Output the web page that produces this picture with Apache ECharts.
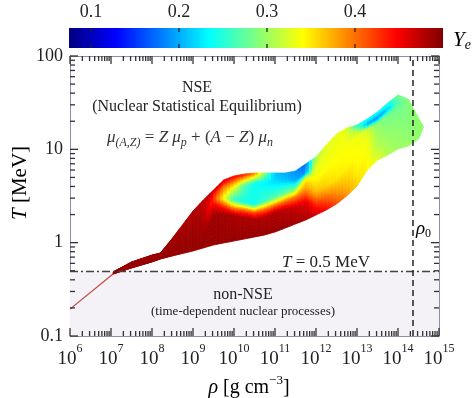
<!DOCTYPE html>
<html><head><meta charset="utf-8">
<script src="https://cdn.jsdelivr.net/npm/echarts@6/dist/echarts.min.js"></script>
<style>html,body{margin:0;padding:0;background:#fff}#c{width:475px;height:398px}</style>
</head><body><div id="c"></div>
<script>
// ---- data ----
const rho = [1.12e7, 3.16e7, 1e8, 1.6e8, 3.16e8, 1e9, 1.78e9, 3.16e9, 5.6e9, 1e10, 1.78e10, 3.16e10, 5.6e10, 1e11,
  1.78e11, 3.16e11, 5.6e11, 1e12, 1.78e12, 3.16e12, 5.6e12, 1e13, 1.78e13, 3.16e13, 5.6e13, 1e14, 1.78e14, 3.16e14, 4e14];
// temperature [MeV] of the ribbon layer boundaries, bottom -> top, one row per density
const Tedges = [
  [0.462, 0.466, 0.471, 0.476, 0.480, 0.485],
  [0.535, 0.551, 0.567, 0.584, 0.602, 0.621],
  [0.621, 0.642, 0.665, 0.688, 0.712, 0.737],
  [0.668, 0.688, 0.709, 0.730, 0.752, 0.775],
  [0.720, 0.787, 0.860, 0.939, 1.027, 1.122],
  [0.814, 0.992, 1.208, 1.472, 1.794, 2.184],
  [0.877, 1.111, 1.408, 1.784, 2.261, 2.866],
  [0.944, 1.979, 2.471, 2.937, 3.322, 3.666],
  [0.992, 2.079, 2.411, 3.009, 3.948, 4.692],
  [1.042, 1.979, 2.295, 2.937, 3.948, 5.178],
  [1.094, 1.884, 2.239, 2.728, 4.148, 5.441],
  [1.150, 1.793, 2.131, 2.596, 4.357, 5.576],
  [1.208, 1.884, 2.295, 2.796, 4.467, 5.576],
  [1.301, 2.131, 2.532, 3.084, 4.578, 5.576],
  [1.436, 2.295, 2.796, 3.405, 4.692, 5.576],
  [1.585, 2.411, 3.084, 3.666, 4.692, 5.858],
  [1.749, 2.728, 3.666, 4.93, 5.576, 6.964],
  [1.979, 2.471, 3.489, 4.93, 6.794, 8.275],
  [2.239, 2.796, 4.047, 6.31, 9.136, 11.13],
  [2.596, 3.322, 4.93, 7.686, 11.69, 14.6],
  [3.162, 4.148, 6.31, 9.836, 13.9, 16.92],
  [4.047, 6.004, 9.364, 14.24, 16.51, 18.23],
  [6.004, 9.364, 13.56, 16.51, 18.68, 21.13],
  [7.686, 11.13, 15.34, 19.15, 21.66, 25.12],
  [8.695, 12.59, 18.68, 23.9, 27.05, 31.36],
  [10.08, 14.6, 20.62, 27.73, 32.94, 38.2],
  [10.86, 14.24, 18.68, 23.9, 29.85, 34.62],
  [12.9, 14.24, 15.72, 17.35, 19.63, 21.66],
  [16.9, 17.0, 17.2, 17.4, 17.6, 17.8]
];
// electron fraction Ye at each of those boundaries
const YeEdges = [
  [0.49, 0.49, 0.49, 0.49, 0.49, 0.49],
  [0.49, 0.49, 0.49, 0.49, 0.49, 0.49],
  [0.49, 0.49, 0.49, 0.49, 0.49, 0.49],
  [0.49, 0.49, 0.49, 0.49, 0.49, 0.488],
  [0.49, 0.49, 0.49, 0.488, 0.486, 0.484],
  [0.49, 0.49, 0.488, 0.486, 0.483, 0.48],
  [0.49, 0.49, 0.487, 0.483, 0.478, 0.475],
  [0.49, 0.487, 0.46, 0.43, 0.44, 0.47],
  [0.49, 0.485, 0.44, 0.34, 0.40, 0.465],
  [0.49, 0.482, 0.41, 0.25, 0.34, 0.45],
  [0.49, 0.482, 0.41, 0.24, 0.27, 0.44],
  [0.49, 0.482, 0.41, 0.24, 0.24, 0.40],
  [0.49, 0.48, 0.40, 0.26, 0.23, 0.30],
  [0.49, 0.478, 0.40, 0.27, 0.22, 0.21],
  [0.49, 0.475, 0.40, 0.28, 0.21, 0.20],
  [0.488, 0.47, 0.40, 0.30, 0.20, 0.19],
  [0.485, 0.46, 0.39, 0.34, 0.19, 0.17],
  [0.47, 0.44, 0.37, 0.34, 0.33, 0.30],
  [0.45, 0.42, 0.36, 0.34, 0.33, 0.33],
  [0.42, 0.39, 0.35, 0.34, 0.335, 0.33],
  [0.39, 0.37, 0.345, 0.34, 0.335, 0.33],
  [0.36, 0.345, 0.34, 0.335, 0.30, 0.25],
  [0.345, 0.34, 0.335, 0.32, 0.20, 0.24],
  [0.33, 0.31, 0.30, 0.29, 0.19, 0.24],
  [0.31, 0.30, 0.29, 0.28, 0.21, 0.25],
  [0.30, 0.295, 0.29, 0.28, 0.27, 0.28],
  [0.30, 0.295, 0.29, 0.29, 0.29, 0.29],
  [0.295, 0.295, 0.295, 0.295, 0.295, 0.295],
  [0.295, 0.295, 0.295, 0.295, 0.295, 0.295]
];
const lineRho = [1e6, 1.12e7];
const lineT = [0.194, 0.462];
const xTickVals = [1e6, 1e7, 1e8, 1e9, 1e10, 1e11, 1e12, 1e13, 1e14, 1e15];
const yTickVals = [0.1, 1, 10, 100];
const cbTickVals = [0.1, 0.2, 0.3, 0.4];
const cbRange = [0.075, 0.5];
const T_NSE = 0.5;
const rho0 = 2.3e14;
const X_MIN = 1e6, X_MAX = 1e15, Y_MIN = 0.1, Y_MAX = 100;

// ---- helpers ----
const SERIF = '"Liberation Serif", "DejaVu Serif", serif';
function clamp(v) { return Math.max(0, Math.min(1, v)); }
function jet(ye) {
  const t = clamp((ye - cbRange[0]) / (cbRange[1] - cbRange[0]));
  const r = clamp(1.5 - Math.abs(4 * t - 3)), g = clamp(1.5 - Math.abs(4 * t - 2)), b = clamp(1.5 - Math.abs(4 * t - 1));
  return 'rgb(' + Math.round(r * 255) + ',' + Math.round(g * 255) + ',' + Math.round(b * 255) + ')';
}
function minorOf(majors) {
  const out = [];
  for (let i = 0; i < majors.length - 1; i++) for (let m = 2; m <= 9; m++) out.push(+(majors[i] * m).toPrecision(3));
  return out;
}
const xMinor = minorOf(xTickVals), yMinor = minorOf(yTickVals);
const lerp = (a, b, f) => a + (b - a) * f;
const L10 = Math.log10;

const bandData = [];
for (let j = 0; j < rho.length - 1; j++) for (let k = 0; k < 5; k++) bandData.push([rho[j], Tedges[j][k], j, k]);

const AXC = '#8f8ca8', TKC = '#333';

function frameAxis(kind, pos, labels) {
  const base = {
    type: 'log', logBase: 10, gridIndex: 0, position: pos, offset: 0,
    min: kind === 'x' ? X_MIN : Y_MIN, max: kind === 'x' ? X_MAX * 1.00002 : Y_MAX,
    axisLine: { show: true, lineStyle: { color: AXC, width: 1 } },
    axisTick: { show: false }, splitLine: { show: false }, minorTick: { show: false }
  };
  if (!labels) { base.axisLabel = { show: false }; return base; }
  if (kind === 'x') base.axisLabel = {
    show: true, customValues: xTickVals, showMinLabel: true, showMaxLabel: true, margin: 7, color: '#222', fontFamily: SERIF,
    formatter: v => '{b|10}{s|' + Math.round(L10(v)) + '}',
    rich: { b: { fontSize: 19, lineHeight: 26, verticalAlign: 'bottom', fontFamily: SERIF, color: '#222' },
            s: { fontSize: 12, lineHeight: 12, verticalAlign: 'top', fontFamily: SERIF, color: '#222' } }
  };
  else base.axisLabel = { show: true, customValues: yTickVals, showMinLabel: true, showMaxLabel: true, margin: 7, fontSize: 18,
    color: '#222', fontFamily: SERIF, formatter: v => String(v) };
  return base;
}
function tickSeries(points, size, offset, xi, yi, color) {
  return { type: 'scatter', xAxisIndex: xi, yAxisIndex: yi, z: 9, silent: true, clip: false, animation: false,
    symbol: 'rect', symbolSize: size, symbolOffset: offset, itemStyle: { color: color, opacity: 1 },
    data: points, emphasis: { disabled: true } };
}

const textGraphics = [
    { type: 'text', x: 197, y: 88, z: 20, style: { text: 'NSE', fontSize: 16, fontFamily: SERIF, fill: '#222', align: 'center', verticalAlign: 'middle' } },
    { type: 'text', x: 197, y: 107, z: 20, style: { text: '(Nuclear Statistical Equilibrium)', fontSize: 16, fontFamily: SERIF, fill: '#222', align: 'center', verticalAlign: 'middle' } },
    { type: 'text', x: 190, y: 138, z: 20, style: {
      text: '{i|μ}{sb|(A,Z)}{n| = }{i|Z}{n| }{i|μ}{sb|p}{n| + (}{i|A}{n| − }{i|Z}{n|) }{i|μ}{sb|n}',
      fontSize: 17, fontFamily: SERIF, fill: '#333', align: 'center', verticalAlign: 'middle',
      rich: { i: { fontSize: 17, fontStyle: 'italic', fontFamily: SERIF, lineHeight: 22, verticalAlign: 'middle', color: '#333' },
              n: { fontSize: 17, fontFamily: SERIF, lineHeight: 22, verticalAlign: 'middle', color: '#333' },
              sb: { fontSize: 12, fontStyle: 'italic', fontFamily: SERIF, lineHeight: 12, verticalAlign: 'bottom', color: '#333' } } } },
    { type: 'text', x: 326, y: 263, z: 20, style: {
      text: '{i|T}{n| = 0.5 MeV}', align: 'center', verticalAlign: 'middle', fill: '#222',
      rich: { i: { fontSize: 17, fontStyle: 'italic', fontFamily: SERIF, color: '#222' }, n: { fontSize: 17, fontFamily: SERIF, color: '#222' } } } },
    { type: 'text', x: 243, y: 295, z: 20, style: { text: 'non-NSE', fontSize: 16, fontFamily: SERIF, fill: '#222', align: 'center', verticalAlign: 'middle' } },
    { type: 'text', x: 243, y: 312, z: 20, style: { text: '(time-dependent nuclear processes)', fontSize: 13, fontFamily: SERIF, fill: '#222', align: 'center', verticalAlign: 'middle' } },
    { type: 'text', x: 416, y: 229, z: 20, style: {
      text: '{i|ρ}{sb|0}', align: 'left', verticalAlign: 'middle',
      rich: { i: { fontSize: 19, fontStyle: 'italic', fontFamily: SERIF, lineHeight: 22, verticalAlign: 'middle', color: '#222' },
              sb: { fontSize: 12, fontFamily: SERIF, lineHeight: 12, verticalAlign: 'bottom', color: '#222' } } } },
    { type: 'text', x: 453, y: 40, z: 20, style: {
      text: '{i|Y}{sb|e}', align: 'left', verticalAlign: 'middle',
      rich: { i: { fontSize: 21, fontStyle: 'italic', fontFamily: SERIF, lineHeight: 24, verticalAlign: 'middle', color: '#222' },
              sb: { fontSize: 14, fontStyle: 'italic', fontFamily: SERIF, lineHeight: 14, verticalAlign: 'bottom', color: '#222' } } } },
    { type: 'text', x: 20, y: 183, rotation: Math.PI / 2, z: 20, style: {
      text: '{i|T}{n| [MeV]}', align: 'center', verticalAlign: 'middle',
      rich: { i: { fontSize: 21, fontStyle: 'italic', fontFamily: SERIF, color: '#222' }, n: { fontSize: 21, fontFamily: SERIF, color: '#222' } } } },
    { type: 'text', x: 249, y: 386, z: 20, style: {
      text: '{i|ρ}{n| [g cm}{s|−3}{n|]}', align: 'center', verticalAlign: 'middle',
      rich: { i: { fontSize: 20, fontStyle: 'italic', fontFamily: SERIF, lineHeight: 24, verticalAlign: 'bottom', color: '#222' },
              n: { fontSize: 20, fontFamily: SERIF, lineHeight: 24, verticalAlign: 'bottom', color: '#222' },
              s: { fontSize: 13, fontFamily: SERIF, lineHeight: 13, verticalAlign: 'top', color: '#222' } } } }
];

const chart = echarts.init(document.getElementById('c'), null, { renderer: 'canvas' });
chart.setOption({
  animation: false,
  backgroundColor: '#fff',
  textStyle: { fontFamily: SERIF },
  grid: [
    { left: 70, top: 56, width: 369, height: 280 },
    { left: 69, top: 28, width: 374, height: 20 }
  ],
  xAxis: [
    frameAxis('x', 'bottom', true), frameAxis('x', 'top', false),
    { type: 'value', gridIndex: 1, min: cbRange[0], max: cbRange[1], position: 'top',
      axisLine: { show: false }, splitLine: { show: false }, axisTick: { show: false },
      axisLabel: { show: true, customValues: cbTickVals, margin: 7, fontSize: 18, color: '#222', fontFamily: SERIF, formatter: v => v.toFixed(1) } }
  ],
  yAxis: [
    frameAxis('y', 'left', true), frameAxis('y', 'right', false),
    { type: 'value', gridIndex: 1, min: 0, max: 1, show: false }
  ],
  series: [
    { type: 'line', xAxisIndex: 0, yAxisIndex: 0, z: 1, silent: true, symbol: 'none',
      data: lineRho.map((r, i) => [r, lineT[i]]), lineStyle: { opacity: 0 },
      markArea: { silent: true, itemStyle: { color: '#f4f2f7' }, data: [[{ yAxis: Y_MIN }, { yAxis: T_NSE }]] } },
    { type: 'line', xAxisIndex: 0, yAxisIndex: 0, z: 3, silent: true, symbol: 'none',
      data: lineRho.map((r, i) => [r, lineT[i]]), lineStyle: { color: '#c0463f', width: 1.2 } },
    // the Ye-coloured ribbon
    { type: 'custom', xAxisIndex: 0, yAxisIndex: 0, z: 4, silent: true, clip: true,
      data: bandData, encode: { x: 0, y: 1 },
      renderItem: function (params, api) {
        const j = api.value(2), k = api.value(3);
        const NS = 6, NH = 3, children = [];
        const lxa = L10(rho[j]), lxb = L10(rho[j + 1]);
        const eT = (f, idx) => lerp(L10(Tedges[j][idx]), L10(Tedges[j + 1][idx]), f);
        const eY = (f, idx) => lerp(YeEdges[j][idx], YeEdges[j + 1][idx], f);
        const pt = (f, s) => api.coord([Math.pow(10, lerp(lxa, lxb, f)), Math.pow(10, lerp(eT(f, k), eT(f, k + 1), s))]);
        for (let h = 0; h < NH; h++) {
          const fa = h / NH, fb = (h + 1) / NH, fm = (fa + fb) / 2;
          const yb = eY(fm, k), yt = eY(fm, k + 1);
          for (let s = 0; s < NS; s++) {
            const sa = s / NS, sb = (s + 1) / NS;
            const c = jet(lerp(yb, yt, (sa + sb) / 2));
            children.push({ type: 'polygon', shape: { points: [pt(fa, sa), pt(fb, sa), pt(fb, sb), pt(fa, sb)] },
              style: { fill: c, stroke: c, lineWidth: 0.8 } });
          }
        }
        return { type: 'group', children: children };
      } },
    { type: 'line', xAxisIndex: 0, yAxisIndex: 0, z: 6, silent: true, symbol: 'none',
      data: lineRho.map((r, i) => [r, lineT[i]]), lineStyle: { opacity: 0 },
      markLine: { silent: true, symbol: ['none', 'none'], label: { show: false },
        data: [
          { yAxis: T_NSE, lineStyle: { type: [8, 3, 2, 3], color: '#444', width: 1.3 } },
          { xAxis: rho0, lineStyle: { type: [6, 4], color: '#222', width: 1.5 } }
        ] } },
    // colour bar
    { type: 'custom', xAxisIndex: 2, yAxisIndex: 2, silent: true, data: [[cbRange[0], 0]], encode: { x: 0, y: 1 },
      renderItem: function (params, api) {
        const p0 = api.coord([cbRange[0], 0]), p1 = api.coord([cbRange[1], 1]);
        const stops = [];
        for (let s = 0; s <= 48; s++) stops.push({ offset: s / 48, color: jet(cbRange[0] + (cbRange[1] - cbRange[0]) * s / 48) });
        return { type: 'rect', shape: { x: p0[0], y: p1[1], width: p1[0] - p0[0], height: p0[1] - p1[1] },
          style: { fill: new echarts.graphic.LinearGradient(0, 0, 1, 0, stops) } };
      } },
    // frame ticks (inward), major and minor, on all four sides
    tickSeries(xTickVals.map(v => [v, Y_MIN]), [1.3, 8], [0, -4], 0, 0, TKC),
    tickSeries(xMinor.map(v => [v, Y_MIN]), [1.3, 5], [0, -2.5], 0, 0, TKC),
    tickSeries(xTickVals.map(v => [v, Y_MAX]), [1.3, 8], [0, 4], 0, 0, TKC),
    tickSeries(xMinor.map(v => [v, Y_MAX]), [1.3, 5], [0, 2.5], 0, 0, TKC),
    tickSeries(yTickVals.map(v => [X_MIN, v]), [8, 1.3], [4, 0], 0, 0, TKC),
    tickSeries(yMinor.map(v => [X_MIN, v]), [5, 1.3], [2.5, 0], 0, 0, TKC),
    tickSeries(yTickVals.map(v => [X_MAX, v]), [8, 1.3], [-4, 0], 0, 0, TKC),
    tickSeries(yMinor.map(v => [X_MAX, v]), [5, 1.3], [-2.5, 0], 0, 0, TKC),
    tickSeries(cbTickVals.map(v => [v, 0]), [1.3, 4], [0, -2], 2, 2, '#222'),
    tickSeries(cbTickVals.map(v => [v, 1]), [1.3, 4], [0, 2], 2, 2, '#222')
  ],
  graphic: textGraphics
});
</script></body></html>
